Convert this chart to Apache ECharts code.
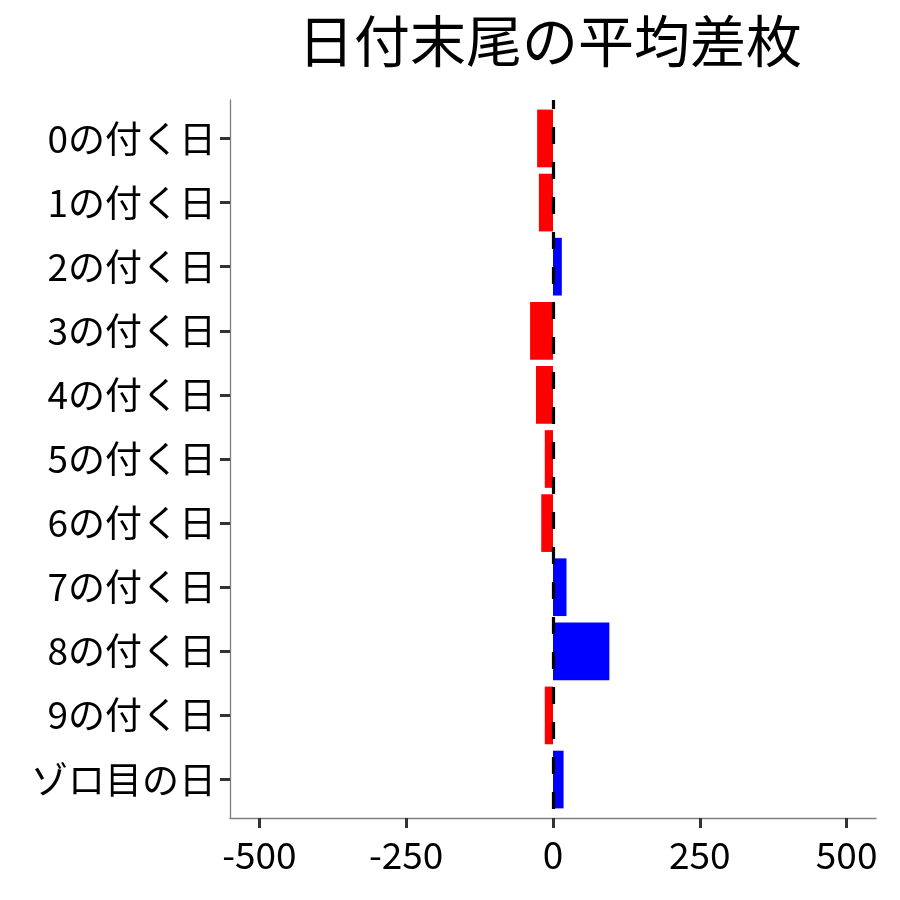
<!DOCTYPE html>
<html>
<head>
<meta charset="utf-8">
<script src="https://cdn.jsdelivr.net/npm/echarts@6/dist/echarts.min.js"></script>
<style>
  html, body { margin: 0; padding: 0; background: #fff; }
  #chart { width: 900px; height: 900px; }
</style>
</head>
<body>
<div id="chart"></div>
<script>
// データ
const categories = [
  "0の付く日", "1の付く日", "2の付く日", "3の付く日", "4の付く日",
  "5の付く日", "6の付く日", "7の付く日", "8の付く日", "9の付く日", "ゾロ目の日"
];
const diffs = [-27, -24, 15, -39, -29, -14, -20, 23, 96, -14, 18];
const xTicks = [-500, -250, 0, 250, 500];
const catIndex = categories.map((c, i) => i);

const font = "Noto Sans CJK JP";
const myChart = echarts.init(document.getElementById("chart"));

const option = {
  backgroundColor: "#fff",
  animation: false,
  title: {
    text: "日付末尾の平均差枚",
    left: 545,
    top: 8,
    textAlign: "center",
    textStyle: { fontFamily: font, fontSize: 56, fontWeight: "normal", color: "#000" },
  },
  grid: { left: 230, right: 24, top: 100, bottom: 82 },
  xAxis: {
    type: "value",
    position: "bottom",
    min: -550,
    max: 550,
    splitLine: { show: false },
    axisLine: { show: true, onZero: false, lineStyle: { color: "#7f7f7f", width: 1.3 } },
    axisTick: { show: true, length: 10, customValues: xTicks, lineStyle: { color: "#333", width: 3 } },
    axisLabel: {
      customValues: xTicks,
      margin: 18,
      fontFamily: font,
      fontSize: 37,
      color: "#000",
    },
  },
  yAxis: {
    type: "value",
    position: "left",
    min: -0.6,
    max: 10.6,
    inverse: true,
    splitLine: { show: false },
    axisLine: { show: true, onZero: false, lineStyle: { color: "#7f7f7f", width: 1.3 } },
    axisTick: { show: true, length: 10, customValues: catIndex, lineStyle: { color: "#333", width: 3 } },
    axisLabel: {
      customValues: catIndex,
      margin: 14,
      fontFamily: font,
      fontSize: 37,
      color: "#000",
      formatter: (v) => categories[Math.round(v)],
    },
  },
  series: [
    {
      type: "custom",
      data: diffs.map((v, i) => [v, i]),
      encode: { x: 0, y: 1 },
      renderItem: (params, api) => {
        const v = api.value(0);
        const i = api.value(1);
        const p0 = api.coord([0, i]);
        const p1 = api.coord([v, i]);
        const h = api.size([0, 0.9])[1];
        return {
          type: "rect",
          shape: {
            x: Math.min(p0[0], p1[0]),
            y: p0[1] - h / 2,
            width: Math.abs(p1[0] - p0[0]),
            height: h,
          },
          style: { fill: v < 0 ? "#ff0000" : "#0000ff" },
        };
      },
      markLine: {
        silent: true,
        symbol: "none",
        label: { show: false },
        lineStyle: { color: "#000", width: 3.2, type: [17, 18], dashOffset: 8 },
        data: [{ xAxis: 0 }],
      },
    },
  ],
};

myChart.setOption(option);
</script>
</body>
</html>
